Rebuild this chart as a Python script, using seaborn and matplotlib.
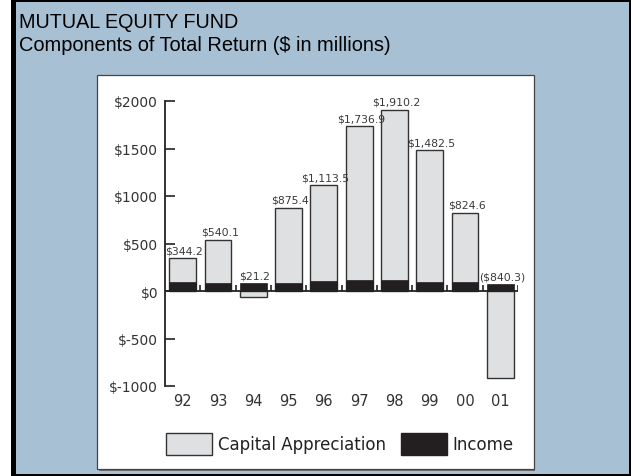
import numpy as np
import matplotlib
matplotlib.use("Agg")
import matplotlib.pyplot as plt
from matplotlib.patches import Rectangle, Patch
import seaborn as sns

# ---- data ----
years = ["92", "93", "94", "95", "96", "97", "98", "99", "00", "01"]
total_labels = ["$344.2", "$540.1", "$21.2", "$875.4", "$1,113.5", "$1,736.9",
                "$1,910.2", "$1,482.5", "$824.6", "($840.3)"]
income = np.array([90, 80, 84, 85, 105, 118, 118, 92, 100, 75])
capital = np.array([254.2, 460.1, -62.8, 790.4, 1008.5, 1618.9, 1792.2, 1390.5, 724.6, -915.3])
y_ticks = [-1000, -500, 0, 500, 1000, 1500, 2000]
y_tick_labels = ["$-1000", "$-500", "$0", "$500", "$1000", "$1500", "$2000"]

sns.set_style("white")
plt.rcParams['font.family'] = ['DejaVu Sans']

W, H = 631, 477
fig = plt.figure(figsize=(W / 100, H / 100), dpi=100)
fig.patch.set_facecolor("white")

def fx(x):
    return x / W

def fy(y):
    return 1 - y / H

# outer frame
fig.patches.append(Rectangle((fx(11), fy(477)), fx(631 - 11), 1, transform=fig.transFigure,
                             facecolor="black", edgecolor="none", zorder=-10))
fig.patches.append(Rectangle((fx(16), fy(475)), fx(628.5 - 16), fy(3) - fy(475),
                             transform=fig.transFigure, facecolor="#a8c0d3",
                             edgecolor="none", zorder=-9))
# inner white panel with shadow
fig.patches.append(Rectangle((fx(98.5), fy(472)), fx(535 - 98.5), fy(77) - fy(472),
                             transform=fig.transFigure, facecolor="#707070",
                             edgecolor="none", zorder=-8))
fig.patches.append(Rectangle((fx(97), fy(470)), fx(533.5 - 97), fy(76) - fy(470),
                             transform=fig.transFigure, facecolor="white",
                             edgecolor="#444444", linewidth=0.9, zorder=-7))

# titles
fig.text(fx(19), fy(28.5), "MUTUAL EQUITY FUND", fontsize=14.2, family="Liberation Sans",
         color="black", ha="left", va="baseline")
fig.text(fx(19), fy(51), "Components of Total Return ($ in millions)", fontsize=14.4,
         family="Liberation Sans", color="black", ha="left", va="baseline")

ax = fig.add_axes([fx(165), fy(387), fx(518 - 165), fy(102) - fy(387)])
ax.set_facecolor("none")
ax.set_zorder(1)

gray_extent = np.where(capital > 0, income + capital, capital)
gray = "#dfe0e2"
dark = "#231f20"
sns.barplot(x=years, y=gray_extent, color=gray, edgecolor="#333333", linewidth=1.0,
            width=0.76, saturation=1, ax=ax, zorder=2)
sns.barplot(x=years, y=income, color=dark, edgecolor=dark, linewidth=0.5,
            width=0.76, saturation=1, ax=ax, zorder=3)

label_top = np.maximum(income + capital, income)
for i, (t, lab) in enumerate(zip(label_top, total_labels)):
    ax.text(i + 0.05, t + 30, lab, ha="center", va="bottom", fontsize=7.8,
            color="#3a3a3a", zorder=5, clip_on=False)

ax.set_xlim(-0.5, 9.5)
ax.set_ylim(-1000, 2000)
ax.set_yticks(y_ticks)
ax.set_yticklabels(y_tick_labels)
ax.set_xlabel("")
ax.set_ylabel("")

for s in ["top", "right", "bottom"]:
    ax.spines[s].set_visible(False)
ax.spines["left"].set_color("#222222")
ax.spines["left"].set_linewidth(1.3)

ax.tick_params(axis="y", direction="in", length=7, width=1.2, color="#222222",
               labelsize=10, labelcolor="#333333", pad=5, left=True)
ax.tick_params(axis="x", length=0, labelsize=10.5, labelcolor="#333333", pad=5)

# x axis line at zero with boundary ticks
ax.axhline(0, color="#222222", linewidth=1.3, zorder=4)
bounds = np.arange(0.5, 10.0, 1.0)
ax.vlines(bounds, 0, 60, color="#222222", linewidth=1.2, zorder=4)

handles = [Patch(facecolor=gray, edgecolor="#333333", linewidth=1.0),
           Patch(facecolor=dark, edgecolor=dark)]
fig.legend(handles, ["Capital Appreciation", "Income"], loc="center",
           bbox_to_anchor=(fx(340), fy(445)), ncol=2, frameon=False,
           handlelength=2.75, handleheight=1.7, handletextpad=0.35,
           columnspacing=0.9, fontsize=12, labelcolor="#222222")

fig.savefig("out.png", dpi=100, facecolor=fig.get_facecolor())
